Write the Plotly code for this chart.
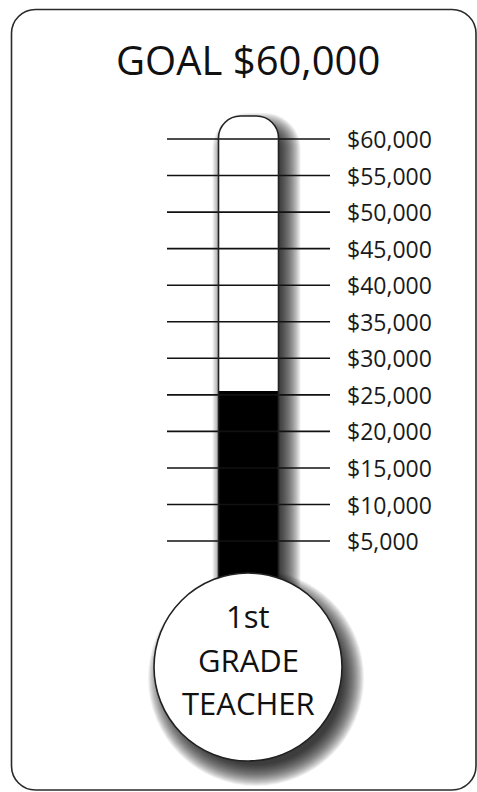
import plotly.graph_objects as go

# ---- data ----
goal = 60000
raised = 25500
tick_values = [5000, 10000, 15000, 20000, 25000, 30000, 35000, 40000, 45000, 50000, 55000, 60000]
tick_labels = ["$5,000", "$10,000", "$15,000", "$20,000", "$25,000", "$30,000",
               "$35,000", "$40,000", "$45,000", "$50,000", "$55,000", "$60,000"]
title_text = "GOAL $60,000"
bulb_lines = ["1st", "GRADE", "TEACHER"]

# ---- layout geometry (pixels) ----
W, H = 477, 792
Y_GOAL_PX = 139.0          # pixel row of the goal tick
PX_PER_STEP = 36.55        # pixels per $5,000
STEP = 5000.0


def v(py):
    """convert a pixel row to the dollar axis (for decoration only)"""
    return goal - (py - Y_GOAL_PX) * STEP / PX_PER_STEP


TUBE_X0, TUBE_X1 = 218.5, 278.5
TUBE_TOP = 116.0
TUBE_R = 22.0
BULB_CX, BULB_CY, BULB_R = 248.0, 667.0, 94.0
K = 0.5523


def rrect_path(x0, x1, ytop, ybot, r, round_bottom=False):
    p = f"M {x0},{v(ybot if not round_bottom else ybot - r)} "
    p += f"L {x0},{v(ytop + r)} "
    p += f"C {x0},{v(ytop + r - K * r)} {x0 + r - K * r},{v(ytop)} {x0 + r},{v(ytop)} "
    p += f"L {x1 - r},{v(ytop)} "
    p += f"C {x1 - r + K * r},{v(ytop)} {x1},{v(ytop + r - K * r)} {x1},{v(ytop + r)} "
    if round_bottom:
        p += f"L {x1},{v(ybot - r)} "
        p += f"C {x1},{v(ybot - r + K * r)} {x1 - r + K * r},{v(ybot)} {x1 - r},{v(ybot)} "
        p += f"L {x0 + r},{v(ybot)} "
        p += f"C {x0 + r - K * r},{v(ybot)} {x0},{v(ybot - r + K * r)} {x0},{v(ybot - r)} "
    else:
        p += f"L {x1},{v(ybot)} "
    p += "Z"
    return p


shapes = []
# outer card
shapes.append(dict(type="path", path=rrect_path(11.5, 476.0, 9.5, 790.0, 24, round_bottom=True),
                   line=dict(color="#2a2a2a", width=1.6), fillcolor="white", layer="below"))

# soft drop shadow (stacked translucent silhouettes)
dx, dy = 8, 11
for e in range(14, -8, -1):
    shapes.append(dict(type="path",
                       path=rrect_path(TUBE_X0 - e + dx, TUBE_X1 + e + dx, TUBE_TOP - e + dy, 640 + dy, max(TUBE_R + e, 2)),
                       line=dict(width=0), fillcolor="rgba(0,0,0,0.06)", layer="below"))
    shapes.append(dict(type="circle", xref="x", yref="y",
                       x0=BULB_CX + dx - BULB_R - e, x1=BULB_CX + dx + BULB_R + e,
                       y0=v(BULB_CY + dy + BULB_R + e), y1=v(BULB_CY + dy - BULB_R - e),
                       line=dict(width=0), fillcolor="rgba(0,0,0,0.06)", layer="below"))

# tube white fill
shapes.append(dict(type="path", path=rrect_path(TUBE_X0, TUBE_X1, TUBE_TOP, 640, TUBE_R),
                   line=dict(width=0), fillcolor="white", layer="below"))

# tick lines
for tv in tick_values:
    shapes.append(dict(type="line", x0=167, x1=330, y0=tv, y1=tv,
                       line=dict(color="#111111", width=1.6), layer="above"))

# tube outline
shapes.append(dict(type="path", path=rrect_path(TUBE_X0, TUBE_X1, TUBE_TOP, 640, TUBE_R),
                   line=dict(color="#222222", width=1.6), fillcolor="rgba(0,0,0,0)", layer="above"))

# bulb
shapes.append(dict(type="circle", xref="x", yref="y",
                   x0=BULB_CX - BULB_R, x1=BULB_CX + BULB_R,
                   y0=v(BULB_CY + BULB_R), y1=v(BULB_CY - BULB_R),
                   line=dict(color="#222222", width=1.6), fillcolor="white", layer="above"))

fig = go.Figure()
fig.add_trace(go.Bar(x=[(TUBE_X0 + TUBE_X1) / 2], y=[raised], width=[TUBE_X1 - TUBE_X0],
                     marker=dict(color="black", line=dict(width=0)), hoverinfo="skip"))

annotations = []
annotations.append(dict(x=248, y=v(59), xref="x", yref="y", text=title_text, showarrow=False,
                        xanchor="center", yanchor="middle",
                        font=dict(family="Open Sans", size=40, color="#111111")))
for tv, tl in zip(tick_values, tick_labels):
    annotations.append(dict(x=345, y=tv, xref="x", yref="y", text=tl, showarrow=False,
                            xanchor="left", yanchor="middle",
                            font=dict(family="Open Sans", size=23, color="#1a1a1a")))
for line_text, py in zip(bulb_lines, [616, 660, 703]):
    annotations.append(dict(x=BULB_CX, y=v(py), xref="x", yref="y", text=line_text, showarrow=False,
                            xanchor="center", yanchor="middle",
                            font=dict(family="Open Sans", size=31, color="#111111")))

fig.update_layout(
    width=W, height=H, margin=dict(l=0, r=0, t=0, b=0),
    paper_bgcolor="white", plot_bgcolor="white", showlegend=False,
    xaxis=dict(range=[0, W], visible=False, fixedrange=True),
    yaxis=dict(range=[v(H), v(0)], visible=False, fixedrange=True),
    shapes=shapes, annotations=annotations, bargap=0,
)
fig.write_html("out.html", config={"displayModeBar": False},
               post_script="document.body.style.margin='0';document.body.style.padding='0';")
